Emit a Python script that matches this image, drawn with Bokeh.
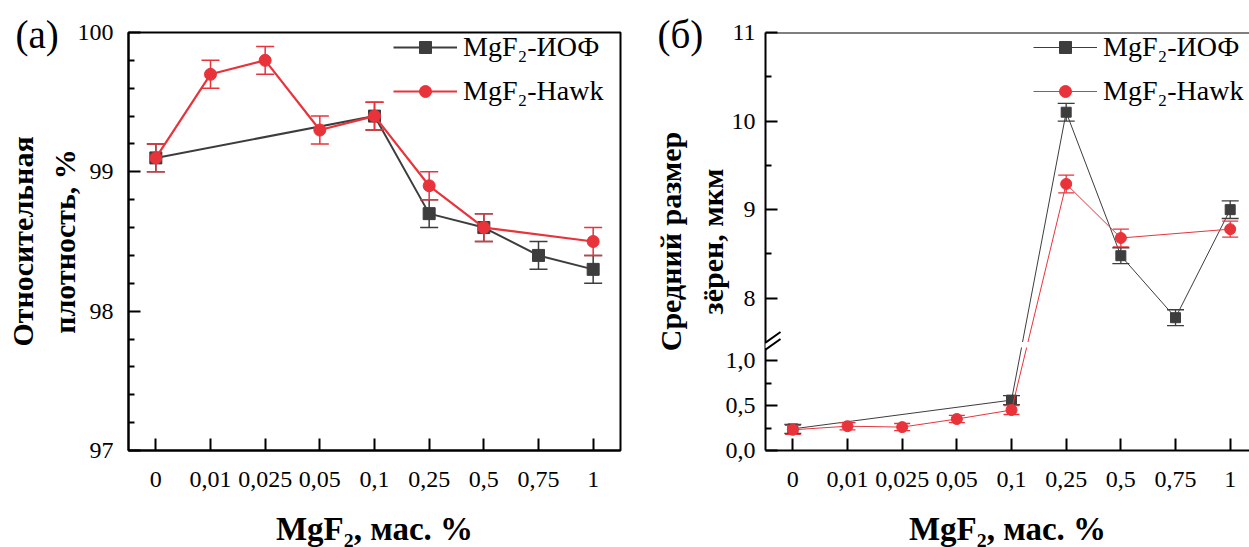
import math

from bokeh.embed import file_html
from bokeh.layouts import row
from bokeh.models import (Arrow, BoxAnnotation, ColumnDataSource, CustomJSTickFormatter,
                          FixedTicker, Legend, LegendItem, Span, Title)
from bokeh.plotting import figure
from bokeh.resources import INLINE

# ---- data -------------------------------------------------------------
conc_labels = ["0", "0,01", "0,025", "0,05", "0,1", "0,25", "0,5", "0,75", "1"]

# (a) relative density, %
density_iof_conc = ["0", "0,1", "0,25", "0,5", "0,75", "1"]
density_iof = [99.1, 99.4, 98.7, 98.6, 98.4, 98.3]
density_iof_err = [0.1, 0.1, 0.1, 0.1, 0.1, 0.1]

density_hawk_conc = ["0", "0,01", "0,025", "0,05", "0,1", "0,25", "0,5", "1"]
density_hawk = [99.1, 99.7, 99.8, 99.3, 99.4, 98.9, 98.6, 98.5]
density_hawk_err = [0.1, 0.1, 0.1, 0.1, 0.1, 0.1, 0.1, 0.1]

# (б) mean grain size, µm
grain_iof_conc = ["0", "0,1", "0,25", "0,5", "0,75", "1"]
grain_iof = [0.24, 0.56, 10.1, 8.48, 7.78, 9.0]
grain_iof_err = [0.05, 0.05, 0.1, 0.09, 0.09, 0.1]

grain_hawk_conc = ["0", "0,01", "0,025", "0,05", "0,1", "0,25", "0,5", "1"]
grain_hawk = [0.23, 0.27, 0.26, 0.35, 0.45, 9.29, 8.68, 8.78]
grain_hawk_err = [0.05, 0.04, 0.04, 0.04, 0.05, 0.1, 0.1, 0.09]

density_ticks = [97, 98, 99, 100]
density_minor = [97.2, 97.4, 97.6, 97.8, 98.2, 98.4, 98.6, 98.8,
                 99.2, 99.4, 99.6, 99.8]
grain_ticks = [0.0, 0.5, 1.0, 8, 9, 10, 11]
grain_tick_labels = ["0,0", "0,5", "1,0", "8", "9", "10", "11"]
grain_minor = [0.25, 0.75, 8.5, 9.5, 10.5]

# ---- style ------------------------------------------------------------
SERIF = "Liberation Serif"
DARK = "#3d3d3d"
RED = "#e8333b"
CAT_PX = 54.67          # horizontal pixels per concentration step
FRAME_TOP = 32
FRAME_H = 418

# broken axis for panel (б): lower part 0..1.2, upper part 7.5..11
BREAK_LO = 1.2
UPPER_LO, UPPER_HI = 7.5, 11.0
GRAIN_TOP = FRAME_H / 90.0


def grain_axis(v):
    if v <= BREAK_LO:
        return v
    return BREAK_LO + (v - UPPER_LO) * (GRAIN_TOP - BREAK_LO) / (UPPER_HI - UPPER_LO)


def idx(concs):
    return [conc_labels.index(c) for c in concs]


def make_fig(left_border, frame_w, right_border, x_end, y_range, ylabel, letter, letter_offset):
    p = figure(frame_width=frame_w, frame_height=FRAME_H,
               min_border_left=left_border, min_border_right=right_border,
               min_border_top=FRAME_TOP, min_border_bottom=547 - FRAME_TOP - FRAME_H,
               x_range=(-0.5, x_end), y_range=y_range,
               output_backend="svg", toolbar_location=None,
               background_fill_color="white", border_fill_color="white")
    p.grid.visible = False
    for ax in (p.xaxis[0], p.yaxis[0]):
        ax.axis_line_width = 2
        ax.axis_line_color = "black"
        ax.major_tick_in = 12
        ax.major_tick_out = 0
        ax.minor_tick_in = 6
        ax.minor_tick_out = 0
        ax.major_tick_line_width = 2
        ax.minor_tick_line_width = 2
        ax.major_label_text_font = SERIF
        ax.major_label_text_font_size = "24px"
        ax.major_label_text_color = "black"
        ax.axis_label_text_font = SERIF
        ax.axis_label_text_font_style = "bold"
        ax.axis_label_text_color = "black"
    p.xaxis.ticker = FixedTicker(ticks=list(range(len(conc_labels))), minor_ticks=[])
    p.xaxis.formatter = CustomJSTickFormatter(
        args=dict(lab=conc_labels), code="return lab[Math.round(tick)];")
    p.xaxis.major_label_standoff = 21
    p.xaxis.axis_label = "MgF₂, мас. %"
    p.xaxis.axis_label_text_font_size = "33px"
    p.xaxis.axis_label_standoff = 21
    p.yaxis.axis_label = ylabel
    p.yaxis.axis_label_standoff = -6
    p.yaxis.axis_label_text_font_size = "30px"
    p.yaxis.axis_label_text_line_height = 1.25

    # panel letter, pulled into the top-left corner
    p.add_layout(Title(text=letter, align="left", vertical_align="bottom",
                       offset=letter_offset, standoff=-47,
                       text_font=SERIF, text_font_size="39px",
                       text_font_style="normal", text_color="black"), "above")
    return p


def series(p, xs, ys, errs, color, marker, msize, lw, cap, elw, to_axis=lambda v: v):
    yy = [to_axis(v) for v in ys]
    up = [to_axis(v + e) for v, e in zip(ys, errs)]
    lo = [to_axis(v - e) for v, e in zip(ys, errs)]
    src = ColumnDataSource(dict(x=xs, y=yy, up=up, lo=lo))
    line = p.line("x", "y", source=src, line_color=color, line_width=lw)
    p.segment("x", "lo", "x", "up", source=src, line_color=color, line_width=elw)
    p.scatter("x", "up", source=src, marker="dash", size=cap, line_color=color, line_width=elw)
    p.scatter("x", "lo", source=src, marker="dash", size=cap, line_color=color, line_width=elw)
    pts = p.scatter("x", "y", source=src, marker=marker, size=msize,
                    fill_color=color, line_color=color)
    return line, pts


def add_legend(p, items, vx, vy):
    lg = Legend(items=items, location=(vx, vy), orientation="vertical",
                border_line_color=None, background_fill_alpha=0,
                padding=0, margin=0, spacing=12,
                glyph_width=64, glyph_height=30, label_height=30, label_standoff=6,
                label_text_font=SERIF, label_text_font_size="28px",
                label_text_color="black")
    p.add_layout(lg)


# ---- (a) relative density ----------------------------------------------
pa = make_fig(128, 492, 20, 8.5, (97, 100), "Относительная\nплотность, %", "(a)", 15 - 128)
pa.outline_line_color = "black"
pa.outline_line_width = 2
pa.outline_line_alpha = 1
pa.yaxis.ticker = FixedTicker(ticks=density_ticks, minor_ticks=density_minor)
pa.yaxis.major_label_standoff = 15

ia_line, ia_pts = series(pa, idx(density_iof_conc), density_iof, density_iof_err,
                         DARK, "square", 12, 2, 18, 1.5)
ha_line, ha_pts = series(pa, idx(density_hawk_conc), density_hawk, density_hawk_err,
                         RED, "circle", 12, 2.2, 18, 1.5)
add_legend(pa, [LegendItem(label="MgF₂-ИОФ", renderers=[ia_line, ia_pts]),
                LegendItem(label="MgF₂-Hawk", renderers=[ha_line, ha_pts])], 265, 343)

# ---- (б) grain size, broken axis ---------------------------------------
RIGHT_FRAME_W = 484
pb = make_fig(125, RIGHT_FRAME_W, 0, -0.5 + RIGHT_FRAME_W / CAT_PX, (0, GRAIN_TOP),
              "Средний размер\nзёрен, мкм", "(б)", 657 - 765)
pb.outline_line_color = None
pb.add_layout(Span(location=GRAIN_TOP, dimension="width", line_color="black", line_width=2))

g_pos = [round(grain_axis(v), 6) for v in grain_ticks]
g_minor = [round(grain_axis(v), 6) for v in grain_minor]
pb.yaxis.ticker = FixedTicker(ticks=g_pos, minor_ticks=g_minor)
pb.yaxis.formatter = CustomJSTickFormatter(
    args=dict(pos=g_pos, lab=grain_tick_labels),
    code="const i = pos.findIndex(p => Math.abs(p - tick) < 1e-4); return i >= 0 ? lab[i] : '';")
pb.yaxis.major_label_standoff = 10

ib_line, ib_pts = series(pb, idx(grain_iof_conc), grain_iof, grain_iof_err,
                         DARK, "square", 10, 1, 17, 1.3, grain_axis)
hb_line, hb_pts = series(pb, idx(grain_hawk_conc), grain_hawk, grain_hawk_err,
                         RED, "circle", 11, 1, 16, 1.3, grain_axis)

# gap in the traces where they cross the axis break
pb.quad(left=-0.5, right=9, bottom=BREAK_LO - 0.055, top=BREAK_LO + 0.005,
        fill_color="white", line_color=None)

add_legend(pb, [LegendItem(label="MgF₂-ИОФ", renderers=[ib_line, ib_pts]),
                LegendItem(label="MgF₂-Hawk", renderers=[hb_line, hb_pts])], 268, 343)


def bx_x(px):
    return -0.5 + (px - 765) / CAT_PX


def by_y(py):
    return (450 - py) / 90.0


# break marks on the y axis
pb.add_layout(BoxAnnotation(left=bx_x(761), right=bx_x(771), bottom=by_y(347.5), top=by_y(342.5),
                            fill_color="white", fill_alpha=1, line_color=None))
for cy in (341.5, 348.5):
    pb.add_layout(Arrow(x_start=bx_x(752), y_start=by_y(cy + 10),
                        x_end=bx_x(780), y_end=by_y(cy - 10),
                        start=None, end=None, line_color="black", line_width=2))

layout = row(pa, pb, spacing=0)
open("out.html", "w").write(file_html(layout, INLINE))
